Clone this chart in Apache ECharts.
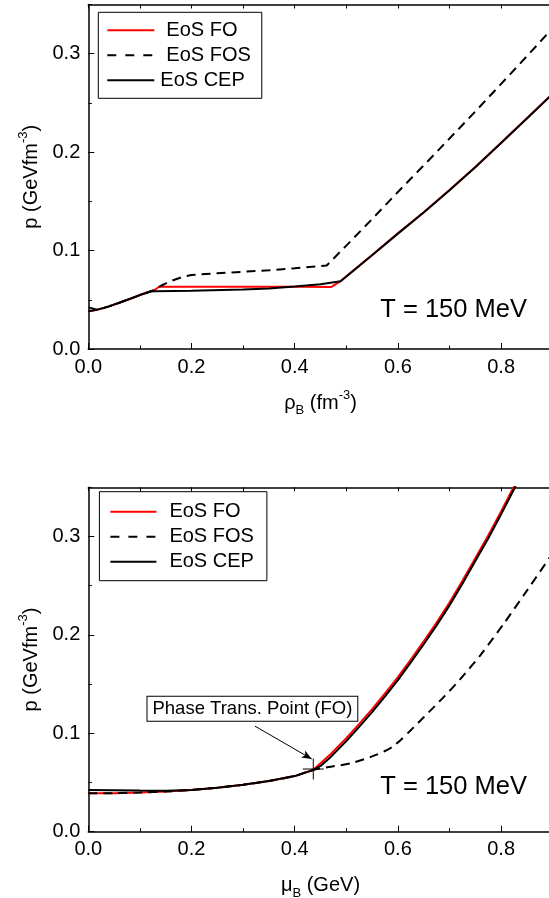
<!DOCTYPE html>
<html><head><meta charset="utf-8">
<script src="https://cdn.jsdelivr.net/npm/echarts@6/dist/echarts.min.js"></script>
<style>html,body{margin:0;padding:0;background:#fff}#c{width:549px;height:898px}</style>
</head><body><div id="c"></div>
<script>
// ---------- data ----------
const seriesNames = ['EoS FO', 'EoS FOS', 'EoS CEP'];
const xTickLabels = ['0.0', '0.2', '0.4', '0.6', '0.8'];
const yTickLabels = ['0.0', '0.1', '0.2', '0.3'];

// top panel: p vs rho_B
const rhoFO = [[0,0.0383],[0.02,0.0400],[0.04,0.0433],[0.06,0.0470],[0.08,0.0508],[0.1,0.0548],[0.12,0.0584],[0.128,0.0597],[0.137,0.0632],[0.2,0.0632],[0.3,0.0632],[0.4,0.0632],[0.471,0.0631],[0.489,0.0690],[0.55,0.0955],[0.6,0.1175],[0.65,0.1390],[0.7,0.1615],[0.75,0.1850],[0.8,0.2095],[0.85,0.2345],[0.9,0.2595]];
const rhoFOS = [[0,0.0383],[0.02,0.0400],[0.04,0.0433],[0.06,0.0470],[0.08,0.0508],[0.1,0.0548],[0.12,0.0584],[0.13,0.0605],[0.14,0.0640],[0.16,0.0690],[0.18,0.0728],[0.2,0.0752],[0.25,0.0770],[0.3,0.0785],[0.35,0.0800],[0.4,0.0820],[0.462,0.0848],[0.5,0.1050],[0.55,0.1320],[0.6,0.1595],[0.65,0.1865],[0.7,0.2138],[0.75,0.2413],[0.8,0.2693],[0.85,0.2975],[0.9,0.3260]];
const rhoCEP = [[0,0.0423],[0.008,0.0413],[0.016,0.0400],[0.03,0.0418],[0.04,0.0433],[0.06,0.0470],[0.08,0.0508],[0.1,0.0548],[0.12,0.0584],[0.13,0.0586],[0.2,0.0592],[0.3,0.0604],[0.35,0.0614],[0.4,0.0634],[0.45,0.0658],[0.489,0.0688],[0.55,0.0953],[0.6,0.1172],[0.65,0.1387],[0.7,0.1612],[0.75,0.1847],[0.8,0.2092],[0.85,0.2342],[0.9,0.2592]];

// bottom panel: p vs mu_B
const muFO = [[0,0.0390],[0.05,0.0392],[0.1,0.0398],[0.15,0.0408],[0.2,0.0424],[0.25,0.0447],[0.3,0.0477],[0.35,0.0515],[0.4,0.0565],[0.436,0.0630],[0.45,0.0695],[0.47,0.0790],[0.5,0.0950],[0.525,0.1095],[0.55,0.1245],[0.575,0.1405],[0.6,0.1570],[0.625,0.1750],[0.65,0.1935],[0.675,0.2125],[0.7,0.2330],[0.725,0.2550],[0.75,0.2780],[0.775,0.3010],[0.8,0.3255],[0.825,0.3510],[0.85,0.3770]];
const muFOS = [[0,0.0390],[0.05,0.0392],[0.1,0.0398],[0.15,0.0408],[0.2,0.0424],[0.25,0.0447],[0.3,0.0477],[0.35,0.0515],[0.4,0.0565],[0.436,0.0630],[0.47,0.0660],[0.51,0.0697],[0.55,0.0765],[0.575,0.0820],[0.59,0.0865],[0.605,0.0930],[0.62,0.1005],[0.64,0.1110],[0.66,0.1215],[0.69,0.1375],[0.72,0.1545],[0.76,0.1795],[0.806,0.2120],[0.85,0.2450],[0.9,0.2830]];
const muCEP = [[0,0.0424],[0.05,0.0422],[0.1,0.0418],[0.15,0.0416],[0.2,0.0424],[0.25,0.0447],[0.3,0.0477],[0.35,0.0515],[0.4,0.0565],[0.436,0.0626],[0.45,0.0668],[0.47,0.0760],[0.5,0.0920],[0.525,0.1065],[0.55,0.1215],[0.575,0.1375],[0.6,0.1540],[0.625,0.1720],[0.65,0.1905],[0.675,0.2095],[0.7,0.2300],[0.725,0.2520],[0.75,0.2750],[0.775,0.2980],[0.8,0.3225],[0.825,0.3480],[0.85,0.3740]];

// annotations (data coordinates)
const tempLabel = 'T = 150 MeV';
const tempPosTop = [0.708, 0.0396];
const tempPosBottom = [0.708, 0.0457];
const phaseText = 'Phase Trans. Point (FO)';
const phasePoint = [0.436, 0.0637];
const phaseBoxPos = [0.318, 0.125];
const arrowFrom = [0.323, 0.1073];
const arrowTo = [0.433, 0.0739];

// ---------- chart ----------
const FONT = "'Liberation Sans', Arial, sans-serif";
const chart = echarts.init(document.getElementById('c'), null, {renderer: 'canvas'});

const nameRich = {
  a: {fontSize: 20, fontFamily: FONT, color: '#000', lineHeight: 28},
  s: {fontSize: 13, fontFamily: FONT, color: '#000', verticalAlign: 'bottom', lineHeight: 14},
  p: {fontSize: 13, fontFamily: FONT, color: '#000', verticalAlign: 'top', lineHeight: 14}
};

function xAxes(g, name) {
  return [
    {gridIndex: g, type: 'value', position: 'bottom', min: 0, max: 0.9, interval: 0.2,
     axisLine: {show: true, onZero: false, lineStyle: {color: '#000', width: 1.5}},
     axisTick: {show: true, inside: true, length: 6, lineStyle: {color: '#000', width: 1}},
     axisLabel: {show: true, fontSize: 20, fontFamily: FONT, color: '#000', margin: 8, showMaxLabel: false,
       formatter: v => { const i = Math.round(v / 0.2); return Math.abs(v - i * 0.2) < 1e-6 && i < xTickLabels.length ? xTickLabels[i] : ''; }},
     splitLine: {show: false},
     name: name, nameLocation: 'middle', nameGap: 40, nameTextStyle: {rich: nameRich}},
    {gridIndex: g, type: 'value', position: 'bottom', min: 0, max: 0.9, interval: 0.1,
     axisLine: {show: false}, axisTick: {show: true, inside: true, length: 3.5, lineStyle: {color: '#000', width: 1}},
     axisLabel: {show: false}, splitLine: {show: false}},
    {gridIndex: g, type: 'value', position: 'top', min: 0, max: 0.9, interval: 0.1,
     axisLine: {show: true, onZero: false, lineStyle: {color: '#000', width: 1.5}},
     axisTick: {show: true, inside: true, length: 4, lineStyle: {color: '#000', width: 1}},
     axisLabel: {show: false}, splitLine: {show: false}}
  ];
}
function yAxes(g, name) {
  return [
    {gridIndex: g, type: 'value', position: 'left', min: 0, max: 0.35, interval: 0.1,
     axisLine: {show: true, onZero: false, lineStyle: {color: '#000', width: 1.5}},
     axisTick: {show: true, inside: true, length: 6, lineStyle: {color: '#000', width: 1}},
     axisLabel: {show: true, fontSize: 20, fontFamily: FONT, color: '#000', margin: 8, showMaxLabel: false,
       formatter: v => { const i = Math.round(v / 0.1); return Math.abs(v - i * 0.1) < 1e-6 && i < yTickLabels.length ? yTickLabels[i] : ''; }},
     splitLine: {show: false},
     name: name, nameLocation: 'middle', nameRotate: 90, nameGap: 43, nameTextStyle: {rich: nameRich}},
    {gridIndex: g, type: 'value', position: 'left', min: 0, max: 0.35, interval: 0.05,
     axisLine: {show: false}, axisTick: {show: true, inside: true, length: 3.5, lineStyle: {color: '#000', width: 1}},
     axisLabel: {show: false}, splitLine: {show: false}}
  ];
}

function line(name, data, g, color, dashed, extra) {
  return Object.assign({
    name: name, type: 'line', xAxisIndex: g * 3, yAxisIndex: g * 2, data: data,
    symbol: 'none', showSymbol: false, smooth: false, clip: true,
    lineStyle: {color: color, width: 2, type: dashed ? [9, 6] : 'solid'},
    itemStyle: {color: color},
    emphasis: {disabled: true}
  }, extra || {});
}

function tempMark(pos) {
  return {coord: pos, symbol: 'circle', symbolSize: 1, itemStyle: {color: 'rgba(0,0,0,0)'},
    label: {show: true, position: 'inside', fontSize: 25.5, fontFamily: FONT, color: '#000', formatter: tempLabel}};
}

function legend(left, top, pad, itemWidth, padText) {
  return {
    orient: 'vertical', left: left, top: top, padding: pad,
    itemWidth: itemWidth, itemHeight: 14, itemGap: 5,
    borderColor: '#000', borderWidth: 1, backgroundColor: '#fff',
    itemStyle: {opacity: 0, borderWidth: 0},
    textStyle: {fontSize: 20, fontFamily: FONT, color: '#000', lineHeight: 20},
    selectedMode: false,
    data: seriesNames.map((n, i) => {
      const item = {name: n, textStyle: {padding: [0, 0, 0, padText[i]]}};
      if (i === 1) item.lineStyle = {type: [9, 9], color: '#000', width: 2};
      return item;
    })
  };
}

const option = {
  animation: false,
  backgroundColor: '#fff',
  textStyle: {fontFamily: FONT},
  grid: [
    {left: 88.3, right: -3.7, top: 4.5, bottom: 549, outerBoundsMode: 'none', containLabel: false},
    {left: 88.3, right: -3.7, top: 487.3, bottom: 66.3, outerBoundsMode: 'none', containLabel: false}
  ],
  xAxis: [].concat(xAxes(0, '{a|ρ}{s|B}{a| (fm}{p|-3}{a|)}'), xAxes(1, '{a|μ}{s|B}{a| (GeV)}')),
  yAxis: [].concat(yAxes(0, '{a|p (GeVfm}{p|-3}{a|)}'), yAxes(1, '{a|p (GeVfm}{p|-3}{a|)}')),
  legend: [
    legend(98.3, 12.3, [8, 11, 8, 8], 47, [7, 7, 1]),
    legend(99.4, 491.7, [10, 13, 9, 10], 46, [8, 8, 8])
  ],
  series: [
    line(seriesNames[0], rhoFO, 0, '#ff0000', false, {markPoint: {silent: true, data: [tempMark(tempPosTop)]}}),
    line(seriesNames[1], rhoFOS, 0, '#000', true),
    line(seriesNames[2], rhoCEP, 0, '#000', false),
    line(seriesNames[0], muFO, 1, '#ff0000', false, {
      markPoint: {
        silent: true,
        data: [
          tempMark(tempPosBottom),
          {coord: phasePoint, symbol: 'path://M0 10L20 10M10 0L10 20', symbolSize: 21,
           itemStyle: {color: 'none', borderColor: '#000', borderWidth: 1}, label: {show: false}},
          {coord: phaseBoxPos, symbol: 'rect', symbolSize: 1, itemStyle: {color: 'rgba(0,0,0,0)'},
           label: {show: true, position: 'inside', formatter: phaseText, fontSize: 18.5, fontFamily: FONT,
             color: '#000', borderColor: '#000', borderWidth: 1, backgroundColor: '#fff', padding: [3, 5, 2, 5]}}
        ]
      },
      markLine: {
        silent: true, symbol: ['none', 'arrow'], symbolSize: [6, 10],
        lineStyle: {color: '#000', width: 1, type: 'solid'}, label: {show: false},
        data: [[{coord: arrowFrom}, {coord: arrowTo}]]
      }
    }),
    line(seriesNames[1], muFOS, 1, '#000', true, {smooth: 0.25}),
    line(seriesNames[2], muCEP, 1, '#000', false)
  ]
};
chart.setOption(option);
</script>
</body></html>
